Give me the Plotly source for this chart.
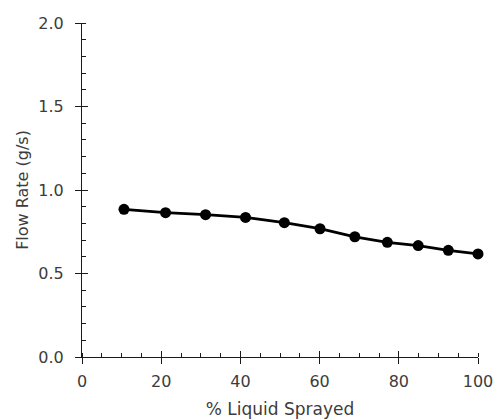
import plotly.graph_objects as go

pct_sprayed = [10.6, 21.1, 31.2, 41.3, 51.1, 60.1, 68.9, 77.1, 84.9, 92.5, 100.0]
flow_rate = [0.884, 0.864, 0.852, 0.836, 0.804, 0.768, 0.720, 0.687, 0.667, 0.639, 0.617]

x_ticks = [0, 20, 40, 60, 80, 100]
y_ticks = [0.0, 0.5, 1.0, 1.5, 2.0]
y_tick_text = ["0.0", "0.5", "1.0", "1.5", "2.0"]

FONT = "DejaVu Sans"
TXT = "#3c3c3c"
AX = "#1a1a1a"

fig = go.Figure()
fig.add_trace(go.Scatter(
    x=pct_sprayed, y=flow_rate, mode="lines+markers",
    line=dict(color="black", width=2.8),
    marker=dict(color="black", size=11),
    showlegend=False, cliponaxis=False,
))

common = dict(showgrid=False, zeroline=False, showline=True, linecolor=AX, linewidth=1,
              tickcolor=AX, tickwidth=1, ticklen=6, ticks="outside", automargin=False,
              tickfont=dict(family=FONT, size=16, color=TXT))

fig.update_layout(
    width=501, height=419,
    margin=dict(l=82, r=23, t=23, b=62, autoexpand=False),
    paper_bgcolor="white", plot_bgcolor="white",
    xaxis=dict(range=[0, 100], tickvals=x_ticks, ticktext=[str(v) for v in x_ticks],
               minor=dict(dtick=5, tick0=0, ticks="inside", ticklen=4, tickcolor=AX),
               ticklabelstandoff=4,
               title=dict(text="% Liquid Sprayed", font=dict(family=FONT, size=17, color=TXT), standoff=14),
               **common),
    yaxis=dict(range=[0, 2], tickvals=y_ticks, ticktext=y_tick_text,
               minor=dict(dtick=0.1, tick0=0, ticks="inside", ticklen=4, tickcolor=AX),
               ticklabelstandoff=8,
               title=dict(text="Flow Rate (g/s)", font=dict(family=FONT, size=16, color=TXT), standoff=5),
               **common),
    xaxis2=dict(overlaying="x", anchor="y", range=[0, 100], tickvals=x_ticks, ticks="inside",
                ticklen=6, tickcolor=AX, showticklabels=False, showline=False, showgrid=False, zeroline=False),
    yaxis2=dict(overlaying="y", anchor="x", range=[0, 2], tickvals=y_ticks, ticks="inside",
                ticklen=6, tickcolor=AX, showticklabels=False, showline=False, showgrid=False, zeroline=False),
)
fig.add_trace(go.Scatter(x=[None], y=[None], xaxis="x2", yaxis="y2", showlegend=False, hoverinfo="skip"))

fig.write_html("out.html", config={"displayModeBar": False},
               post_script="document.body.style.margin='0';document.body.style.overflow='hidden';")
